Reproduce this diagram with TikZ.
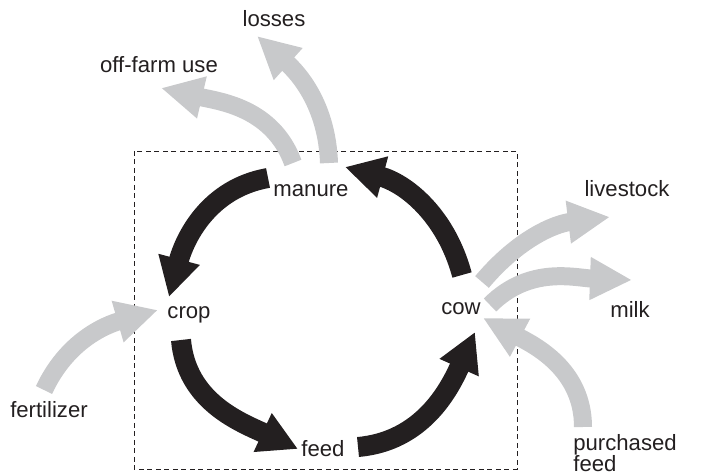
\documentclass[tikz,border=0pt]{standalone}
\usepackage{fontspec}
\setmainfont{Liberation Sans}
\usetikzlibrary{arrows.meta}

\definecolor{inkblack}{RGB}{35,31,32}
\definecolor{flowgray}{RGB}{200,201,203}

\tikzset{
  lbl/.style={font=\fontsize{12.6}{12}\selectfont, text=inkblack, inner sep=0pt, anchor=base},
  loopflow/.style={draw=inkblack, line width=0.4cm, -{Triangle[length=0.78cm,width=0.8cm]}},
  sideflow/.style={draw=flowgray, line width=0.36cm, -{Triangle[length=0.84cm,width=0.8cm]}},
  farmbox/.style={draw=inkblack, line width=0.5pt, dash pattern=on 0.1cm off 0.07cm}
}

\begin{document}
\begin{tikzpicture}[x=0.02cm,y=0.02cm]
    \useasboundingbox (0,0) rectangle (710,-475);
    %% Draw the farm boundary
    \draw[farmbox] (134,-151) rectangle (517,-469);
    %% Draw the nodes
    \node[lbl] (losses) at (274,-27) {losses};
    \node[lbl] (offfarm) at (159,-73) {off-farm use};
    \node[lbl] (manure) at (311,-197) {manure};
    \node[lbl] (livestock) at (627,-197) {livestock};
    \node[lbl] (milk) at (630,-318) {milk};
    \node[lbl] (cow) at (461,-315) {cow};
    \node[lbl] (crop) at (189,-319) {crop};
    \node[lbl] (fertilizer) at (49,-418) {fertilizer};
    \node[lbl] (feed) at (323,-457) {feed};
    \node[lbl, anchor=north west, align=left] (purchased) at (573,-434) {purchased\\feed};
    %% Arrow ends
    \coordinate (manureA) at (268,-178);
    \coordinate (cropA) at (169,-297);
    \coordinate (cropB) at (181,-340);
    \coordinate (feedA) at (298,-449);
    \coordinate (feedB) at (358,-447);
    \coordinate (cowA) at (475,-332);
    \coordinate (cowB) at (462,-275);
    \coordinate (manureB) at (345,-167);
    \coordinate (manureC) at (293,-163);
    \coordinate (offfarmA) at (161,-88);
    \coordinate (manureD) at (329,-163);
    \coordinate (lossesA) at (257,-36);
    \coordinate (cowC) at (482,-282);
    \coordinate (livestockA) at (610,-217);
    \coordinate (cowD) at (490,-305);
    \coordinate (milkA) at (632,-280);
    \coordinate (purchasedA) at (583,-427);
    \coordinate (cowE) at (483,-318);
    \coordinate (fertilizerA) at (44,-390);
    \coordinate (cropC) at (158,-310);
    %% Draw the nutrient cycle
    \begin{scope}[every path/.style={loopflow}]
      \draw (manureA) to[out=190,in=75] (cropA);
      \draw (cropB) to[out=-85,in=155] (feedA);
      \draw (feedB) to[out=5,in=246] (cowA);
      \draw (cowB) to[out=105,in=-15] (manureB);
    \end{scope}
    %% Draw the flows in and out
    \begin{scope}[every path/.style={sideflow}]
      \draw (manureC) to[out=110,in=-13] (offfarmA);
      \draw (manureD) to[out=92,in=-42] (lossesA);
      \draw (cowC) to[out=50,in=187] (livestockA);
      \draw (cowD) to[out=45,in=178] (milkA);
      \draw (purchasedA) to[out=90,in=-28] (cowE);
      \draw (fertilizerA) to[out=65,in=196] (cropC);
    \end{scope}
\end{tikzpicture}
\end{document}
